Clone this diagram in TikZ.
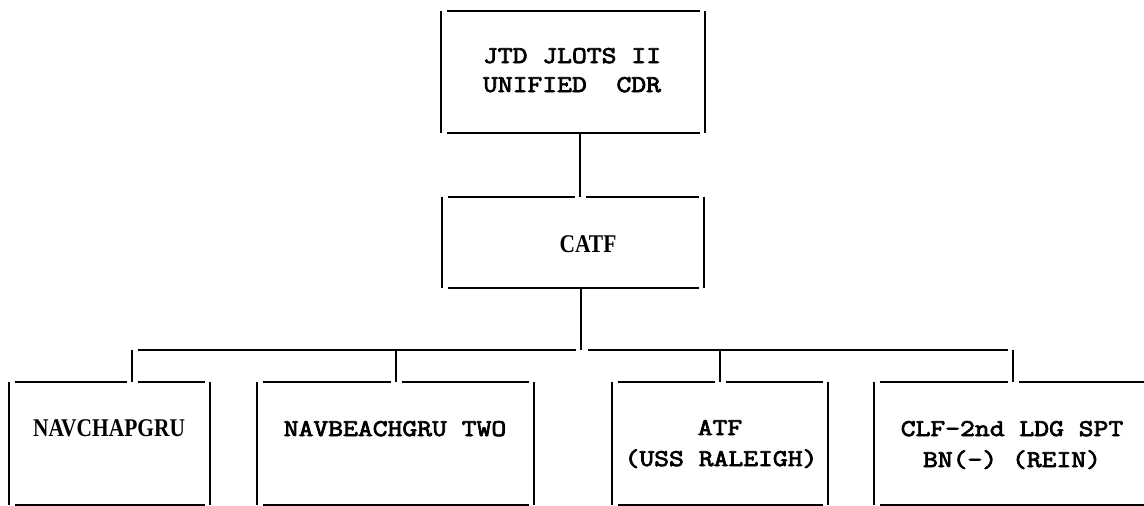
\documentclass[tikz,border=0pt]{standalone}
\usepackage{fontspec}
\usetikzlibrary{calc}
\newfontfamily\twfont{Latin Modern Mono}[FakeStretch=1.2, FakeBold=3.2]
\newfontfamily\slabfont{Liberation Serif}[FakeStretch=0.84]
\tikzset{
  frame/.style={rectangle, draw=none, inner sep=0pt},
  tw/.style={font=\twfont\fontsize{24}{29}\selectfont, inner sep=0pt, anchor=base},
  slab/.style={font=\slabfont\bfseries\fontsize{25.5}{30}\selectfont, inner sep=0pt, anchor=base},
  edge/.style={line width=2.2pt, black}
}
\newcommand\frmgap[2]{%
  \draw[edge] (#1.north west) -- (#1.south west);
  \draw[edge] (#1.north east) -- (#1.south east);
  \draw[edge] ($(#1.south west)+(6,0)$) -- ($(#1.south east)+(-5,0)$);
  \draw[edge] ($(#1.north west)+(6,0)$) -- ($(#1.north west -| #2)+(-5,0)$);
  \draw[edge] ($(#1.north west -| #2)+(6,0)$) -- ($(#1.north east)+(-5,0)$);
}
\newcommand\frmfull[1]{%
  \draw[edge] (#1.north west) -- (#1.south west);
  \draw[edge] (#1.north east) -- (#1.south east);
  \draw[edge] ($(#1.south west)+(6,0)$) -- ($(#1.south east)+(-5,0)$);
  \draw[edge] ($(#1.north west)+(6,0)$) -- ($(#1.north east)+(-5,0)$);
}
\begin{document}
\begin{tikzpicture}[x=1pt,y=-1pt]
\fill[white] (0,0) rectangle (1144,506);
\useasboundingbox (0,0) rectangle (1144,506);
% frames
\node[frame, minimum width=264, minimum height=122] (top) at (573,72) {};
\node[frame, minimum width=262, minimum height=91] (catf) at (573,242.5) {};
\node[frame, minimum width=201, minimum height=123] (b1) at (109.5,443.5) {};
\node[frame, minimum width=277, minimum height=123] (b2) at (395.5,443.5) {};
\node[frame, minimum width=216, minimum height=123] (b3) at (720,443.5) {};
\node[frame, minimum width=290, minimum height=123] (b4) at (1019,443.5) {};
% junction coordinates
\coordinate (j1) at (580,0);
\coordinate (bus) at (581,350);
\coordinate (d1) at (132,350);
\coordinate (d2) at (396,350);
\coordinate (d3) at (720,350);
\coordinate (d4) at (1013,350);
% box outlines
\frmfull{top}
\frmgap{catf}{j1}
\frmgap{b1}{d1}
\frmgap{b2}{d2}
\frmgap{b3}{d3}
\frmgap{b4}{d4}
% connectors
\draw[edge] (top.south -| j1) -- (catf.north -| j1);
\draw[edge] (catf.south -| bus) -- (bus);
\draw[edge] ($(d1)+(6,0)$) -- ($(bus)+(-5,0)$);
\draw[edge] ($(bus)+(7,0)$) -- ($(d4)+(-5,0)$);
\draw[edge] (d1) -- (b1.north -| d1);
\draw[edge] (d2) -- (b2.north -| d2);
\draw[edge] (d3) -- (b3.north -| d3);
\draw[edge] (d4) -- (b4.north -| d4);
% texts
\node[tw] (t0a) at (572,63) {JTD JLOTS II};
\node[tw] (t0b) at (572,92) {UNIFIED\ \ CDR};
\node[slab] (tc) at (588,252) {CATF};
\node[slab] (t1) at (109,436) {NAVCHAPGRU};
\node[tw] (t2) at (395,436) {NAVBEACHGRU TWO};
\node[tw] (t3a) at (720,435) {ATF};
\node[tw] (t3b) at (721,466) {(USS RALEIGH)};
\node[tw] (t4a) at (1012,436) {CLF-2nd LDG SPT};
\node[tw] (t4b) at (1012,467) {BN(-) (REIN)};
\end{tikzpicture}
\end{document}
